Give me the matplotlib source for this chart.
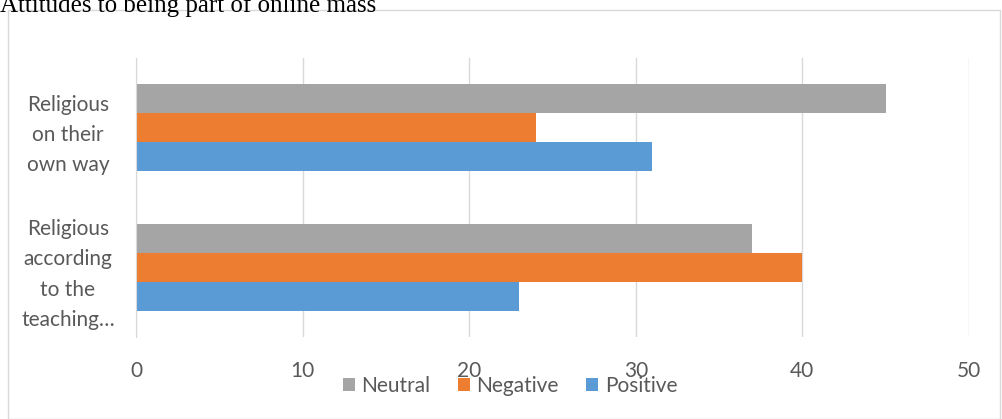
import matplotlib.pyplot as plt
import numpy as np
from matplotlib.patches import Rectangle

categories = ['Religious\naccording\nto the\nteaching…', 'Religious\non their\nown way']
series = ['Neutral', 'Negative', 'Positive']
neutral = [37, 45]
negative = [40, 24]
positive = [23, 31]
colors = ['#A5A5A5', '#ED7D31', '#5B9BD5']
xticks = [0, 10, 20, 30, 40, 50]

plt.rcParams['font.family'] = ['Lato', 'DejaVu Sans']
W, H = 1002, 419
fig = plt.figure(figsize=(W / 100, H / 100), dpi=100)

# chart frame
fig.patches.append(Rectangle((8 / W, 0), 992 / W, 1 - 10 / H, transform=fig.transFigure,
                             fill=False, edgecolor='#d9d9d9', linewidth=1))
fig.text(0, 1 - 12 / H, 'Attitudes to being part of online mass', family='Liberation Serif',
         fontsize=18, color='black', ha='left', va='baseline')

ax = fig.add_axes([136 / W, 1 - 337 / H, (969 - 136) / W, (337 - 58) / H])
y = np.arange(len(categories))
h = 0.207
for i, (vals, name) in enumerate(zip([neutral, negative, positive], series)):
    ax.barh(y + (1 - i) * h, vals, height=h, color=colors[i], label=name)

ax.set_xlim(0, 50)
ax.set_ylim(-0.5, 1.5)
ax.set_xticks(xticks)
ax.set_yticks(y)
ax.set_yticklabels(categories, fontsize=15, color='#595959', linespacing=1.65,
                   ha='center')
ax.tick_params(axis='y', length=0, pad=49)
ax.tick_params(axis='x', length=0, labelsize=15, labelcolor='#595959', pad=17)
ax.grid(axis='x', color='#d9d9d9', linewidth=1)
ax.set_axisbelow(True)
for s in ['top', 'right', 'bottom']:
    ax.spines[s].set_visible(False)
ax.spines['left'].set_color('#d9d9d9')

ax.legend(loc='center', bbox_to_anchor=(510 / W, 1 - 386 / H), bbox_transform=fig.transFigure,
          ncol=3, frameon=False, fontsize=15, labelcolor='#595959', handlelength=0.6,
          handleheight=0.6, handletextpad=0.3, columnspacing=1.3)

fig.savefig('out.png', dpi=100)
